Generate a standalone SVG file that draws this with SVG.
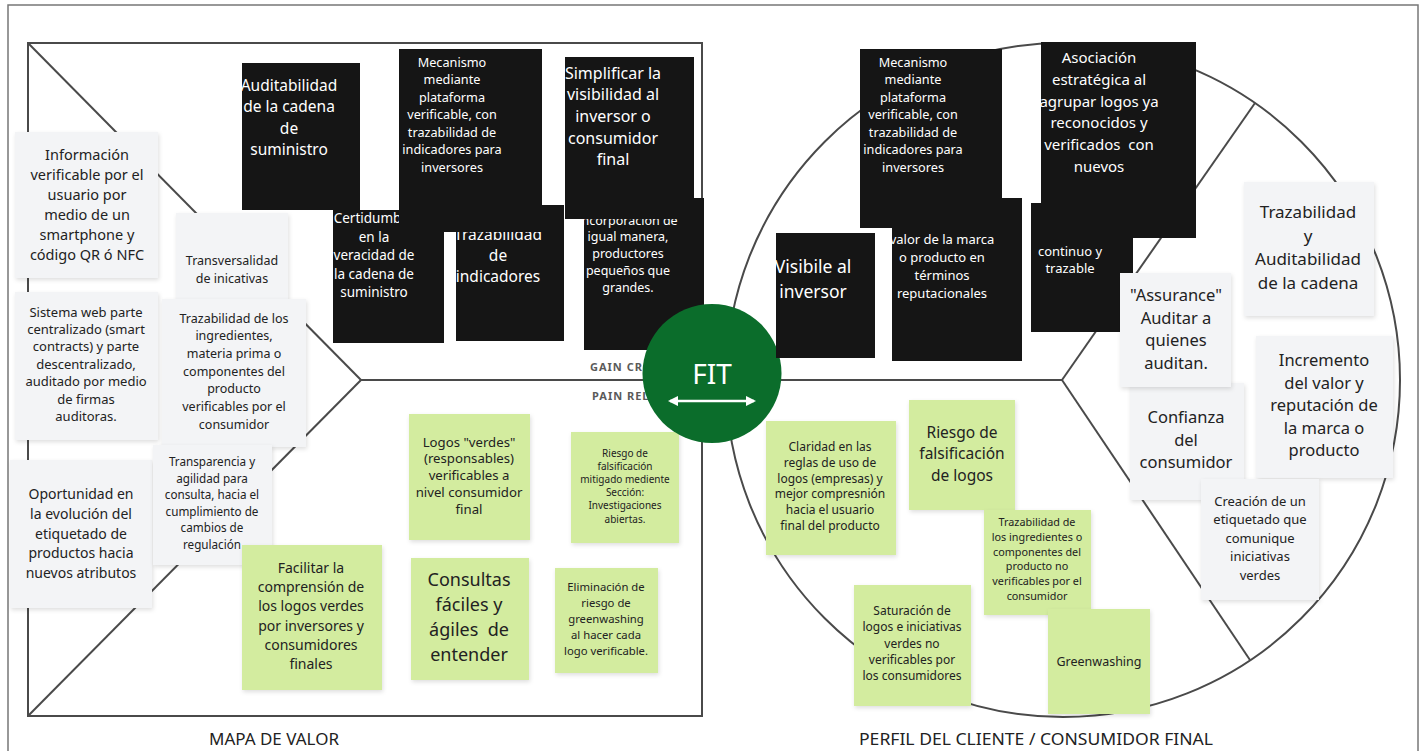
<svg xmlns="http://www.w3.org/2000/svg" width="1424" height="751" viewBox="0 0 1424 751">
<style>
.frame{fill:none;stroke:#4a4a4a;stroke-width:2}
.outer{fill:#fff;stroke:#777;stroke-width:1.5}
.gn{fill:#f3f4f6;filter:url(#sh)}
.gr{fill:#d3ec9f;filter:url(#sh)}
.bk{fill:#151515}
text{font-family:"Noto Sans","Open Sans",sans-serif;text-anchor:middle}
.t{fill:#222}
.w{fill:#fff}
.lab{font-family:"Noto Sans","Open Sans",sans-serif;font-weight:bold;font-size:11px;fill:#5a5a5a;letter-spacing:1px;text-anchor:start}
</style>
<defs>
<filter id="sh" x="-10%" y="-10%" width="125%" height="125%">
<feDropShadow dx="1" dy="2" stdDeviation="2" flood-color="#000" flood-opacity="0.13"/>
</filter>
<marker id="ah" viewBox="0 0 10 10" refX="8" refY="5" markerWidth="4" markerHeight="4" orient="auto-start-reverse">
<path d="M0,0 L10,5 L0,10 z" fill="#fff"/>
</marker>
</defs>
<rect class="outer" x="8" y="5" width="1410" height="770"/>

<g id="connectors">
<rect class="frame" x="28" y="43" width="674" height="673"/>
<line class="frame" x1="28" y1="43" x2="361" y2="380"/>
<line class="frame" x1="28" y1="716" x2="361" y2="380"/>
<line class="frame" x1="361" y1="380" x2="1062" y2="380"/>
<circle class="frame" cx="1063" cy="380" r="337"/>
<line class="frame" x1="1062" y1="380" x2="1255" y2="103"/>
<line class="frame" x1="1062" y1="380" x2="1250" y2="660"/>
</g>

<g id="labels">
<text class="lab" x="590" y="371">GAIN CREATORS</text>
<text class="lab" x="592" y="400">PAIN RELIEVERS</text>
<text class="t" x="274" y="745" font-size="17" textLength="130" lengthAdjust="spacingAndGlyphs">MAPA DE VALOR</text>
<text class="t" x="1036" y="745" font-size="17" textLength="354" lengthAdjust="spacingAndGlyphs">PERFIL DEL CLIENTE / CONSUMIDOR FINAL</text>
</g>

<g id="n-informacion">
<rect class="gn" x="15" y="132" width="143" height="146"/>
<text class="t" font-size="14.5" y="160"><tspan x="87">Información</tspan><tspan x="87" dy="20">verificable por el</tspan><tspan x="87" dy="20">usuario por</tspan><tspan x="87" dy="20">medio de un</tspan><tspan x="87" dy="20">smartphone y</tspan><tspan x="87" dy="20">código QR ó NFC</tspan></text>
</g>
<g id="n-sistema">
<rect class="gn" x="15" y="292" width="143" height="148"/>
<text class="t" font-size="13" y="316.5"><tspan x="86">Sistema web parte</tspan><tspan x="86" dy="17.4">centralizado (smart</tspan><tspan x="86" dy="17.4">contracts) y parte</tspan><tspan x="86" dy="17.4">descentralizado,</tspan><tspan x="86" dy="17.4">auditado por medio</tspan><tspan x="86" dy="17.4">de firmas</tspan><tspan x="86" dy="17.4">auditoras.</tspan></text>
</g>
<g id="n-oportunidad">
<rect class="gn" x="10" y="460" width="142" height="148"/>
<text class="t" font-size="14" y="499"><tspan x="81">Oportunidad en</tspan><tspan x="81" dy="19.8">la evolución del</tspan><tspan x="81" dy="19.8">etiquetado de</tspan><tspan x="81" dy="19.8">productos hacia</tspan><tspan x="81" dy="19.8">nuevos atributos</tspan></text>
</g>
<g id="n-transversalidad">
<rect class="gn" x="176" y="213" width="112" height="88"/>
<text class="t" font-size="12.5" y="264.5"><tspan x="232">Transversalidad</tspan><tspan x="232" dy="18">de inicativas</tspan></text>
</g>
<g id="n-trazabilidad-ingredientes">
<rect class="gn" x="162" y="299" width="144" height="148"/>
<text class="t" font-size="12.5" y="322.5"><tspan x="234">Trazabilidad de los</tspan><tspan x="234" dy="17.7">ingredientes,</tspan><tspan x="234" dy="17.7">materia prima o</tspan><tspan x="234" dy="17.7">componentes del</tspan><tspan x="234" dy="17.7">producto</tspan><tspan x="234" dy="17.7">verificables por el</tspan><tspan x="234" dy="17.7">consumidor</tspan></text>
</g>
<g id="n-transparencia">
<rect class="gn" x="153" y="445" width="119" height="120"/>
<text class="t" font-size="11.7" y="466"><tspan x="212">Transparencia y</tspan><tspan x="212" dy="16.6">agilidad para</tspan><tspan x="212" dy="16.6">consulta, hacia el</tspan><tspan x="212" dy="16.6">cumplimiento de</tspan><tspan x="212" dy="16.6">cambios de</tspan><tspan x="212" dy="16.6">regulación</tspan></text>
</g>
<g id="n-facilitar">
<rect class="gr" x="242" y="545" width="140" height="145"/>
<text class="t" font-size="14" y="573"><tspan x="311">Facilitar la</tspan><tspan x="311" dy="19.2">comprensión de</tspan><tspan x="311" dy="19.2">los logos verdes</tspan><tspan x="311" dy="19.2">por inversores y</tspan><tspan x="311" dy="19.2">consumidores</tspan><tspan x="311" dy="19.2">finales</tspan></text>
</g>
<g id="n-logos-verdes">
<rect class="gr" x="409" y="414" width="121" height="126"/>
<text class="t" font-size="13.2" y="446.5"><tspan x="469">Logos "verdes"</tspan><tspan x="469" dy="16.8">(responsables)</tspan><tspan x="469" dy="16.8">verificables a</tspan><tspan x="469" dy="16.8">nivel consumidor</tspan><tspan x="469" dy="16.8">final</tspan></text>
</g>
<g id="n-riesgo-mitigado">
<rect class="gr" x="571" y="432" width="108" height="111"/>
<text class="t" font-size="10" y="456.5"><tspan x="625">Riesgo de</tspan><tspan x="625" dy="13.2">falsificación</tspan><tspan x="625" dy="13.2">mitigado mediente</tspan><tspan x="625" dy="13.2">Sección:</tspan><tspan x="625" dy="13.2">Investigaciones</tspan><tspan x="625" dy="13.2">abiertas.</tspan></text>
</g>
<g id="n-consultas">
<rect class="gr" x="411" y="558" width="118" height="122"/>
<text class="t" font-size="18" y="586"><tspan x="469">Consultas</tspan><tspan x="469" dy="25">fáciles y</tspan><tspan x="469" dy="25">ágiles&#160; de</tspan><tspan x="469" dy="25">entender</tspan></text>
</g>
<g id="n-eliminacion">
<rect class="gr" x="555" y="568" width="103" height="105"/>
<text class="t" font-size="11.3" y="591"><tspan x="606">Eliminación de</tspan><tspan x="606" dy="16">riesgo de</tspan><tspan x="606" dy="16">greenwashing</tspan><tspan x="606" dy="16">al hacer cada</tspan><tspan x="606" dy="16">logo verificable.</tspan></text>
</g>

<g id="n-auditabilidad">
<rect class="bk" x="242" y="63" width="118" height="147"/>
<text class="w" font-size="15.5" y="90.5"><tspan x="289">Auditabilidad</tspan><tspan x="289" dy="21.5">de la cadena</tspan><tspan x="289" dy="21.5">de</tspan><tspan x="289" dy="21.5">suministro</tspan></text>
</g>
<g id="n-certidumbre">
<rect class="bk" x="333" y="210" width="111" height="133"/>
<text class="w" font-size="13.5" y="223"><tspan x="374">Certidumbre</tspan><tspan x="374" dy="18.5">en la</tspan><tspan x="374" dy="18.5">veracidad de</tspan><tspan x="374" dy="18.5">la cadena de</tspan><tspan x="374" dy="18.5">suministro</tspan></text>
</g>
<g id="n-trazabilidad-indicadores">
<rect class="bk" x="456" y="205" width="108" height="136"/>
<text class="w" font-size="15.5" y="239.5"><tspan x="498">Trazabilidad</tspan><tspan x="498" dy="21">de</tspan><tspan x="498" dy="21">indicadores</tspan></text>
</g>
<g id="n-mecanismo-1">
<rect class="bk" x="399" y="49" width="143" height="183"/>
<text class="w" font-size="12.7" y="66.5"><tspan x="452">Mecanismo</tspan><tspan x="452" dy="17.5">mediante</tspan><tspan x="452" dy="17.5">plataforma</tspan><tspan x="452" dy="17.5">verificable, con</tspan><tspan x="452" dy="17.5">trazabilidad de</tspan><tspan x="452" dy="17.5">indicadores para</tspan><tspan x="452" dy="17.5">inversores</tspan></text>
</g>
<g id="n-incorporacion">
<rect class="bk" x="584" y="198" width="120" height="152"/>
<text class="w" font-size="12.5" y="224.5"><tspan x="628">incorporación de</tspan><tspan x="628" dy="16.8">igual manera,</tspan><tspan x="628" dy="16.8">productores</tspan><tspan x="628" dy="16.8">pequeños que</tspan><tspan x="628" dy="16.8">grandes.</tspan></text>
</g>
<g id="n-simplificar">
<rect class="bk" x="565" y="57" width="129" height="162"/>
<text class="w" font-size="16" y="78.5"><tspan x="613">Simplificar la</tspan><tspan x="613" dy="21.7">visibilidad al</tspan><tspan x="613" dy="21.7">inversor o</tspan><tspan x="613" dy="21.7">consumidor</tspan><tspan x="613" dy="21.7">final</tspan></text>
</g>

<g id="n-fit">
<circle cx="712" cy="373.5" r="69.5" fill="#0b6d2b"/>
<text class="w" x="712" y="384" font-size="28">FIT</text>
<line x1="670" y1="401" x2="754" y2="401" stroke="#fff" stroke-width="2.6" marker-start="url(#ah)" marker-end="url(#ah)"/>
</g>

<g id="n-visibile">
<rect class="bk" x="776" y="233" width="99" height="125"/>
<text class="w" font-size="17.5" y="273"><tspan x="813">Visibile al</tspan><tspan x="813" dy="24.5">inversor</tspan></text>
</g>
<g id="n-valor-marca">
<rect class="bk" x="892" y="198" width="130" height="163"/>
<text class="w" font-size="13" y="243.5"><tspan x="942">valor de la marca</tspan><tspan x="942" dy="18">o producto en</tspan><tspan x="942" dy="18">términos</tspan><tspan x="942" dy="18">reputacionales</tspan></text>
</g>
<g id="n-mecanismo-2">
<rect class="bk" x="860" y="49" width="142" height="179"/>
<text class="w" font-size="12.7" y="66.5"><tspan x="913">Mecanismo</tspan><tspan x="913" dy="17.5">mediante</tspan><tspan x="913" dy="17.5">plataforma</tspan><tspan x="913" dy="17.5">verificable, con</tspan><tspan x="913" dy="17.5">trazabilidad de</tspan><tspan x="913" dy="17.5">indicadores para</tspan><tspan x="913" dy="17.5">inversores</tspan></text>
</g>
<g id="n-continuo">
<rect class="bk" x="1031" y="203" width="102" height="129"/>
<text class="w" font-size="13" y="255.5"><tspan x="1070">continuo y</tspan><tspan x="1070" dy="17">trazable</tspan></text>
</g>
<g id="n-asociacion">
<rect class="bk" x="1041" y="42" width="155" height="196"/>
<text class="w" font-size="15" y="63"><tspan x="1099">Asociación</tspan><tspan x="1099" dy="21.8">estratégica al</tspan><tspan x="1099" dy="21.8">agrupar logos ya</tspan><tspan x="1099" dy="21.8">reconocidos y</tspan><tspan x="1099" dy="21.8">verificados&#160; con</tspan><tspan x="1099" dy="21.8">nuevos</tspan></text>
</g>

<g id="n-trazabilidad-auditabilidad">
<rect class="gn" x="1244" y="182" width="130" height="134"/>
<text class="t" font-size="17" y="218"><tspan x="1308">Trazabilidad</tspan><tspan x="1308" dy="23.7">y</tspan><tspan x="1308" dy="23.7">Auditabilidad</tspan><tspan x="1308" dy="23.7">de la cadena</tspan></text>
</g>
<g id="n-confianza">
<rect class="gn" x="1130" y="383" width="114" height="117"/>
<text class="t" font-size="16.5" y="423"><tspan x="1186">Confianza</tspan><tspan x="1186" dy="22.5">del</tspan><tspan x="1186" dy="22.5">consumidor</tspan></text>
</g>
<g id="n-assurance">
<rect class="gn" x="1120" y="273" width="111" height="114"/>
<text class="t" font-size="16.5" y="301"><tspan x="1176">"Assurance"</tspan><tspan x="1176" dy="22.7">Auditar a</tspan><tspan x="1176" dy="22.7">quienes</tspan><tspan x="1176" dy="22.7">auditan.</tspan></text>
</g>
<g id="n-incremento">
<rect class="gn" x="1256" y="336" width="137" height="142"/>
<text class="t" font-size="16.5" y="366"><tspan x="1324">Incremento</tspan><tspan x="1324" dy="22.5">del valor y</tspan><tspan x="1324" dy="22.5">reputación de</tspan><tspan x="1324" dy="22.5">la marca o</tspan><tspan x="1324" dy="22.5">producto</tspan></text>
</g>
<g id="n-creacion">
<rect class="gn" x="1201" y="479" width="118" height="121"/>
<text class="t" font-size="13" y="505.5"><tspan x="1260">Creación de un</tspan><tspan x="1260" dy="18.5">etiquetado que</tspan><tspan x="1260" dy="18.5">comunique</tspan><tspan x="1260" dy="18.5">iniciativas</tspan><tspan x="1260" dy="18.5">verdes</tspan></text>
</g>

<g id="n-claridad">
<rect class="gr" x="766" y="421" width="130" height="134"/>
<text class="t" font-size="12" y="451"><tspan x="830">Claridad en las</tspan><tspan x="830" dy="15.8">reglas de uso de</tspan><tspan x="830" dy="15.8">logos (empresas) y</tspan><tspan x="830" dy="15.8">mejor compresnión</tspan><tspan x="830" dy="15.8">hacia el usuario</tspan><tspan x="830" dy="15.8">final del producto</tspan></text>
</g>
<g id="n-riesgo-logos">
<rect class="gr" x="909" y="400" width="106" height="110"/>
<text class="t" font-size="15.5" y="437.5"><tspan x="962">Riesgo de</tspan><tspan x="962" dy="21.5">falsificación</tspan><tspan x="962" dy="21.5">de logos</tspan></text>
</g>
<g id="n-trazabilidad-no-verificables">
<rect class="gr" x="984" y="510" width="107" height="105"/>
<text class="t" font-size="10.8" y="526"><tspan x="1037">Trazabilidad de</tspan><tspan x="1037" dy="14.8">los ingredientes o</tspan><tspan x="1037" dy="14.8">componentes del</tspan><tspan x="1037" dy="14.8">producto no</tspan><tspan x="1037" dy="14.8">verificables por el</tspan><tspan x="1037" dy="14.8">consumidor</tspan></text>
</g>
<g id="n-saturacion">
<rect class="gr" x="854" y="585" width="117" height="121"/>
<text class="t" font-size="12" y="615"><tspan x="912">Saturación de</tspan><tspan x="912" dy="16.3">logos e iniciativas</tspan><tspan x="912" dy="16.3">verdes no</tspan><tspan x="912" dy="16.3">verificables por</tspan><tspan x="912" dy="16.3">los consumidores</tspan></text>
</g>
<g id="n-greenwashing">
<rect class="gr" x="1048" y="609" width="102" height="105"/>
<text class="t" font-size="12.5" x="1099" y="665.5">Greenwashing</text>
</g>
</svg>
